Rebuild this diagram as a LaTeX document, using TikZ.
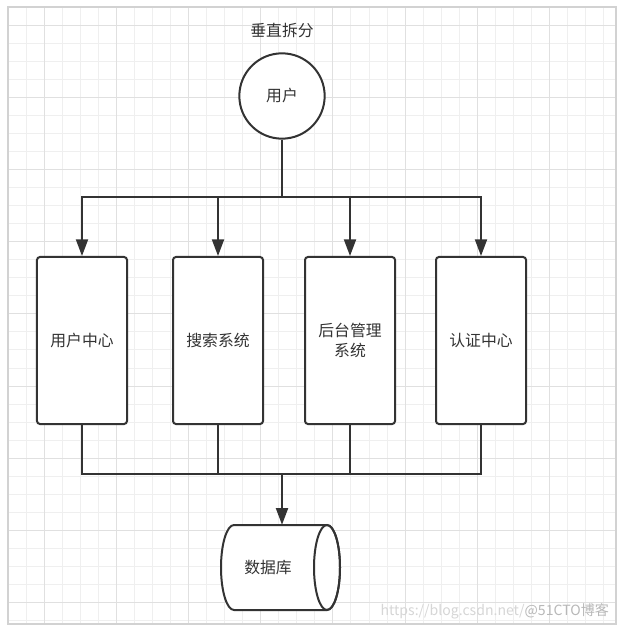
\documentclass[tikz,border=0pt]{standalone}
\usepackage{fontspec}
\setmainfont{Noto Sans CJK SC}
\usepackage{xcolor}
\usetikzlibrary{shapes,arrows.meta,positioning,calc}
\definecolor{trazo}{HTML}{333333}
\definecolor{rejilla}{HTML}{EFEFEF}
\definecolor{rejillamayor}{HTML}{E0E0E0}
\definecolor{marco}{HTML}{D2D2D2}
\definecolor{marcaclara}{HTML}{D6D6D6}
\definecolor{marcaoscura}{HTML}{B8B8B8}

\begin{document}
\begin{tikzpicture}[x=0.03cm, y=-0.03cm]
  % Definir estilos
  \tikzstyle{texto}=[text=trazo, font=\fontsize{13.5}{17}\selectfont]
  \tikzstyle{usuario}=[texto, circle, draw=trazo, fill=white, line width=0.06cm, minimum size=2.56cm, inner sep=0pt]
  \tikzstyle{modulo}=[texto, rectangle, rounded corners=2.5pt, draw=trazo, fill=white, line width=0.06cm, minimum width=2.7cm, minimum height=5.01cm, align=center]
  \tikzstyle{linea}=[draw=trazo, line width=0.06cm]
  \tikzstyle{flecha}=[linea, -{Triangle[length=0.5cm, width=0.36cm]}]
  \useasboundingbox (0,0) rectangle (622,629);

  % Rejilla de fondo
  \fill[white] (0,0) rectangle (622,629);
  \foreach \i in {0,...,33} \draw[rejilla, line width=0.8pt] (8+18.05*\i,7) -- (8+18.05*\i,624);
  \foreach \i in {0,...,34} \draw[rejilla, line width=0.8pt] (8,7+18.05*\i) -- (616,7+18.05*\i);
  \foreach \i in {2,6,...,30} \draw[rejillamayor, line width=0.8pt] (8+18.05*\i,7) -- (8+18.05*\i,624);
  \foreach \i in {1,5,...,33} \draw[rejillamayor, line width=0.8pt] (8,7+18.05*\i) -- (616,7+18.05*\i);
  \draw[marco, line width=1pt] (8,7) rectangle (616,624);

  % Titulo y usuario
  \node[texto] (titulo) at (282,31) {垂直拆分};
  \node[usuario] (usuario) at (282,96) {用户};

  % Modulos de la division vertical
  \node[modulo] (centro) at (82,340.5) {用户中心};
  \node[modulo] (busqueda) at (218,340.5) {搜索系统};
  \node[modulo] (gestion) at (350,340.5) {后台管理\\系统};
  \node[modulo] (auth) at (481,340.5) {认证中心};

  % Base de datos (cilindro)
  \filldraw[linea, fill=white] (234,525) -- (327,525) arc[start angle=-90, end angle=90, x radius=13, y radius=42.5] -- (234,610) arc[start angle=90, end angle=270, x radius=13, y radius=42.5] -- cycle;
  \draw[linea] (327,567.5) ellipse[x radius=13, y radius=42.5];
  \node[texto, minimum width=2.79cm, minimum height=2.55cm] (bd) at (268,567.5) {数据库};

  % Puntos de reparto
  \coordinate (reparto) at (282,197);
  \coordinate (union) at (282,474);

  % Usuario hacia los modulos
  \draw[linea] (usuario) -- (reparto);
  \draw[flecha] (reparto) -| (centro.north);
  \draw[flecha] (reparto) -| (busqueda.north);
  \draw[flecha] (reparto) -| (gestion.north);
  \draw[flecha] (reparto) -| (auth.north);

  % Modulos hacia la base de datos
  \draw[linea] (centro.south) |- (union);
  \draw[linea] (busqueda.south) |- (union);
  \draw[linea] (gestion.south) |- (union);
  \draw[linea] (auth.south) |- (union);
  \draw[flecha] (union) -- (union |- bd.north);

  % Marca de agua
  \node[anchor=east, font=\fontsize{12}{14}\selectfont] (marca) at (613,611) {\textcolor{marcaclara}{https://blog.csdn.net/}\textcolor{marcaoscura}{@51CTO博客}};
\end{tikzpicture}
\end{document}
